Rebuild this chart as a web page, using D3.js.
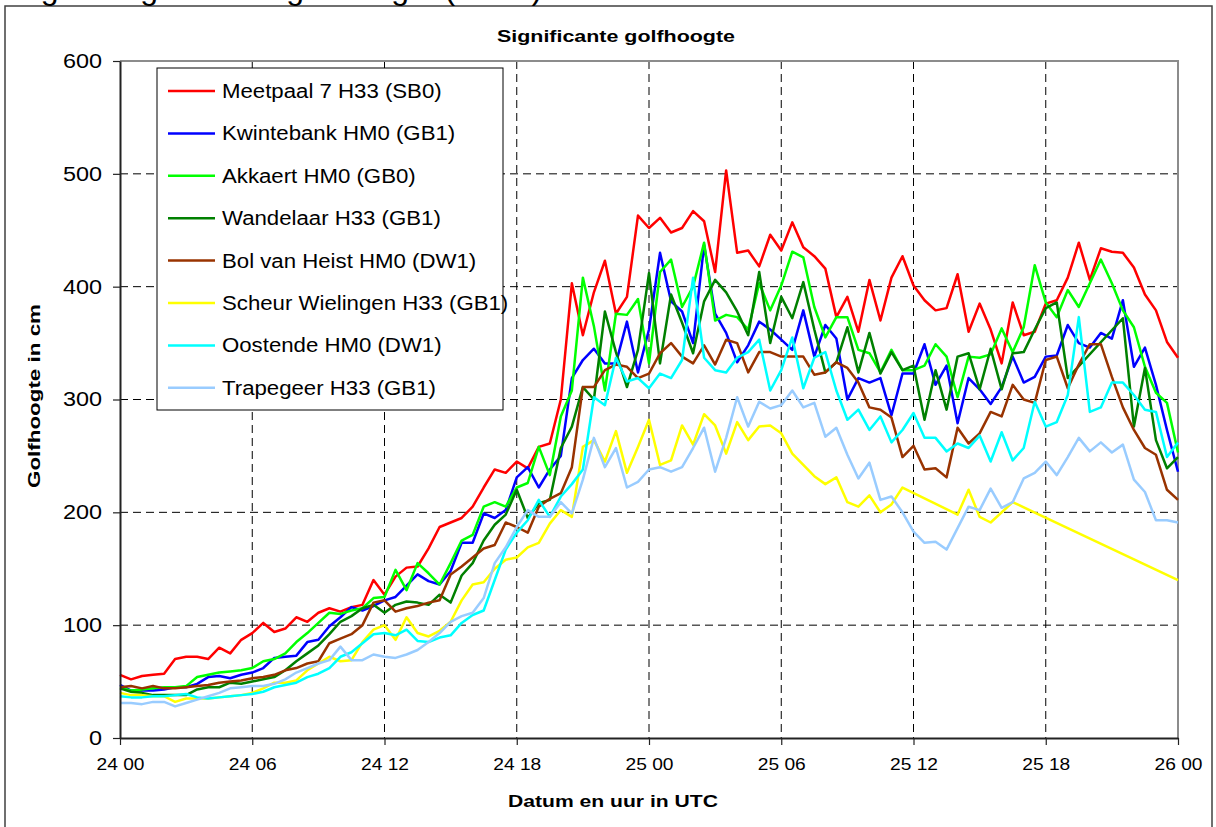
<!DOCTYPE html>
<html>
<head>
<meta charset="utf-8">
<script src="https://cdn.jsdelivr.net/npm/d3@7"></script>
<style>
body { margin: 0; background: #fff; }
text { font-family: Arial, "Liberation Sans", sans-serif; }
</style>
</head>
<body>
<div id="chart"></div>
<script>
// golfhoogte (cm) every 30 minutes from 24 00 to 26 00, null = no measurement
var startTime = Date.UTC(2010, 0, 24, 0, 0);
var stepMinutes = 30;

var seriesNames = ["Meetpaal 7 H33 (SB0)", "Kwintebank HM0 (GB1)", "Akkaert HM0 (GB0)",
    "Wandelaar H33 (GB1)", "Bol van Heist HM0 (DW1)", "Scheur Wielingen H33 (GB1)",
    "Oostende HM0 (DW1)", "Trapegeer H33 (GB1)"];
var seriesColors = ["#ff0000", "#0000ff", "#00ff00", "#008000", "#993300", "#ffff00", "#00ffff", "#99ccff"];

var meetpaal = [56,52,55,56,57,70,72,72,70,80, 75,87,93,102,94,97,107,103,111,115,
    112,116,118,140,127,143,151,152,168,187, 191,195,205,222,238,235,245,239,258,261,
    300,403,357,395,423,376,391,463,452,461, 448,452,467,458,413,503,430,432,418,446,
    432,457,435,427,416,373,391,360,406,370, 408,427,401,388,379,381,411,360,385,362,
    332,386,357,360,385,388,408,439,406,434, 431,430,417,393,379,351,337];
var kwintebank = [47,42,42,42,43,45,45,48,54,55, 53,56,58,62,71,72,73,85,87,99,
    107,116,113,117,122,125,135,145,139,136, 148,173,173,199,195,202,231,240,222,238,
    250,319,335,345,332,332,369,324,362,430, 387,378,350,437,376,359,333,348,369,362,
    353,344,379,338,366,354,300,319,315,319, 286,323,323,349,313,330,279,319,309,296,
    311,338,315,320,338,339,366,350,346,359, 354,388,329,346,313,273,236];
var akkaert = [45,42,43,44,45,45,46,54,56,58, 59,60,62,68,70,75,85,93,102,111,
    110,113,115,124,125,149,131,155,146,136, 155,175,180,205,209,205,222,226,258,233,
    285,308,408,365,308,376,375,389,332,413, 424,382,400,439,370,375,373,362,403,379,
    401,431,426,382,355,373,373,344,341,324, 344,326,326,330,349,338,302,338,337,340,
    363,342,364,419,386,373,397,382,403,424, 403,379,364,329,306,297,253];
var wandelaar = [44,41,40,38,38,38,38,43,45,45, 49,48,50,52,54,60,68,75,82,92,
    103,108,115,118,111,118,121,120,118,127, 120,144,155,175,189,198,220,195,208,211,
    257,276,311,300,378,342,311,344,412,332, 393,368,341,387,406,395,378,357,413,350,
    391,372,404,362,324,333,364,324,359,323, 342,326,330,282,326,291,338,341,309,345,
    309,341,342,362,381,386,319,null,null,null, null,372,276,328,264,239,249];
var bolVanHeist = [45,46,44,46,44,44,45,46,47,49, 50,51,53,54,56,60,62,66,68,84,
    88,92,100,120,122,112,115,117,120,122, 145,152,160,168,171,191,187,182,205,212,
    217,240,311,311,326,331,329,319,323,341, 350,338,332,348,331,353,350,324,342,342,
    338,338,338,322,324,333,328,315,293,291, 284,249,259,238,239,231,275,261,270,289,
    285,313,300,297,335,338,310,331,349,349, 320,293,273,257,251,220,211];
var scheurWielingen = [40,38,38,37,37,32,35,35,35,36, 37,38,40,44,49,49,51,60,66,72,
    68,69,85,96,100,87,107,93,90,95, 103,122,136,138,150,158,160,169,173,190,
    202,196,258,264,245,272,235,258,282,242, 246,277,260,287,277,252,280,264,276,277,
    270,252,242,232,225,231,209,205,215,200, 207,222,null,null,null,null,198,220,196,191,
    null,209,null,null,null,null,null,null,null,null, null,null,null,null,null,null,140];
var oostende = [37,36,36,37,37,38,39,36,35,36, 37,38,39,41,45,47,49,54,57,62,
    72,76,84,92,93,91,96,86,85,89, 91,102,109,113,140,167,182,193,211,196,
    214,225,238,302,295,337,316,319,310,323, 319,335,408,337,326,324,337,342,353,308,
    326,355,310,337,342,308,282,291,273,285, 262,273,288,266,266,254,261,257,268,245,
    271,246,257,298,276,280,304,373,289,293, 315,315,304,291,289,249,262];
var trapegeer = [31,31,30,32,32,28,31,34,37,40, 44,45,46,46,48,52,58,62,66,69,
    81,69,69,74,72,71,74,78,85,93, 103,108,111,124,155,169,187,202,196,196,
    209,199,229,266,240,257,222,227,238,240, 236,240,257,275,236,266,302,276,298,292,
    295,308,293,297,267,275,251,230,244,211, 214,200,183,173,174,167,186,205,202,221,
    204,209,230,235,245,233,249,266,254,262, 253,260,229,218,193,193,191];

var allSeries = [meetpaal, kwintebank, akkaert, wandelaar, bolVanHeist, scheurWielingen, oostende, trapegeer];
var yTicks = [0, 100, 200, 300, 400, 500, 600];

var W = 1216, H = 827;
var margin = { top: 61, right: 38, bottom: 89, left: 120 };
var width = W - margin.left - margin.right,
    height = H - margin.top - margin.bottom;

var endTime = startTime + 48 * 3600 * 1000;

var x = d3.scaleUtc()
    .domain([new Date(startTime), new Date(endTime)])
    .range([0, width]);
var y = d3.scaleLinear()
    .domain([0, 600])
    .range([height, 0]);

function timeOf(i) {
    return new Date(startTime + i * stepMinutes * 60 * 1000);
}

// the picture is a bit wider than normal, so texts get stretched sideways
function stretch(sel, factor) {
    sel.each(function() {
        var w = this.getComputedTextLength();
        d3.select(this)
            .attr("textLength", w * factor)
            .attr("lengthAdjust", "spacingAndGlyphs");
    });
}

var svg = d3.select("#chart").append("svg")
    .attr("width", W)
    .attr("height", H);

// outer frame + caption that is cut off at the top
svg.append("rect")
    .attr("x", 5).attr("y", 6)
    .attr("width", 1207).attr("height", 840)
    .attr("fill", "none")
    .attr("stroke", "#404040")
    .attr("stroke-width", 1.5);
svg.append("text")
    .attr("x", 14).attr("y", -1)
    .attr("font-size", 32)
    .text("Fig. 2: Significante golfhoogte (in cm)");

svg.append("text")
    .attr("x", 616).attr("y", 42)
    .attr("text-anchor", "middle")
    .attr("font-size", 17)
    .attr("font-weight", "bold")
    .attr("textLength", 238)
    .attr("lengthAdjust", "spacingAndGlyphs")
    .text("Significante golfhoogte");

var g = svg.append("g")
    .attr("transform", "translate(" + margin.left + "," + margin.top + ")");

// grid
var sixHours = x.ticks(d3.utcHour.every(6));
g.selectAll(".hgrid")
    .data(yTicks.filter(function(d) { return d > 0 && d < 600; }))
    .enter().append("line")
    .attr("x1", 0).attr("x2", width)
    .attr("y1", function(d) { return y(d); })
    .attr("y2", function(d) { return y(d); })
    .attr("stroke", "#000")
    .attr("stroke-dasharray", "8,5");
g.selectAll(".vgrid")
    .data(sixHours.filter(function(d, i) { return i > 0 && i < sixHours.length - 1; }))
    .enter().append("line")
    .attr("x1", function(d) { return x(d); })
    .attr("x2", function(d) { return x(d); })
    .attr("y1", 0).attr("y2", height)
    .attr("stroke", "#000")
    .attr("stroke-dasharray", "8,5");

// plot border (top / right)
g.append("path")
    .attr("d", "M0,0H" + width + "V" + height)
    .attr("fill", "none")
    .attr("stroke", "#8c8c8c")
    .attr("stroke-width", 2);

// series
var line = d3.line()
    .x(function(d) { return x(d.t); })
    .y(function(d) { return y(d.v); });

allSeries.forEach(function(values, s) {
    var pts = [];
    values.forEach(function(v, i) {
        if (v !== null) pts.push({ t: timeOf(i), v: v });
    });
    g.append("path")
        .datum(pts)
        .attr("d", line)
        .attr("fill", "none")
        .attr("stroke", seriesColors[s])
        .attr("stroke-width", 2.5)
        .attr("stroke-linejoin", "round");
});

// axes
var yAxis = g.append("g")
    .call(d3.axisLeft(y).tickValues(yTicks).tickSize(7).tickSizeOuter(0).tickPadding(11));
var xAxis = g.append("g")
    .attr("transform", "translate(0," + height + ")")
    .call(d3.axisBottom(x).ticks(d3.utcHour.every(6)).tickFormat(d3.utcFormat("%d %H"))
        .tickSize(7).tickSizeOuter(0).tickPadding(13));

[yAxis, xAxis].forEach(function(ax) {
    ax.select(".domain").attr("stroke", "#222").attr("stroke-width", 2);
    ax.selectAll(".tick line").attr("stroke", "#222").attr("stroke-width", 1.2);
    ax.selectAll(".tick text").attr("fill", "#000").style("font-family", "Arial, 'Liberation Sans', sans-serif");
});
yAxis.selectAll(".tick text").attr("font-size", 20);
stretch(yAxis.selectAll(".tick text"), 1.17);
xAxis.selectAll(".tick text")
    .attr("font-size", 17)
    .attr("textLength", 48)
    .attr("lengthAdjust", "spacingAndGlyphs");

svg.append("text")
    .attr("x", 613).attr("y", 807)
    .attr("text-anchor", "middle")
    .attr("font-size", 17)
    .attr("font-weight", "bold")
    .attr("textLength", 210)
    .attr("lengthAdjust", "spacingAndGlyphs")
    .text("Datum en uur in UTC");

svg.append("text")
    .attr("transform", "translate(40,396) rotate(-90)")
    .attr("text-anchor", "middle")
    .attr("font-size", 17)
    .attr("font-weight", "bold")
    .attr("textLength", 184)
    .attr("lengthAdjust", "spacingAndGlyphs")
    .text("Golfhoogte in cm");

// legend
var legend = svg.append("g").attr("transform", "translate(157,68)");
legend.append("rect")
    .attr("width", 346).attr("height", 342)
    .attr("fill", "#fff")
    .attr("stroke", "#000")
    .attr("stroke-width", 1);
var item = legend.selectAll(".item")
    .data(seriesNames)
    .enter().append("g")
    .attr("transform", function(d, i) { return "translate(0," + (23 + i * 42.4) + ")"; });
item.append("line")
    .attr("x1", 11).attr("x2", 58)
    .attr("stroke", function(d, i) { return seriesColors[i]; })
    .attr("stroke-width", 2.5);
var itemText = item.append("text")
    .attr("x", 65).attr("y", 7)
    .attr("font-size", 20)
    .text(function(d) { return d; });
stretch(itemText, 1.11);
</script>
</body>
</html>
